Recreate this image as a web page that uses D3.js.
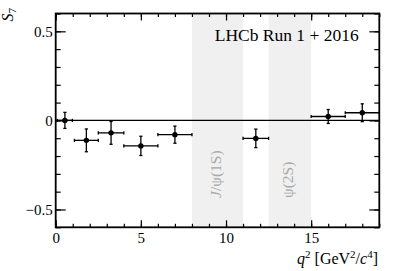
<!DOCTYPE html>
<html>
<head>
<meta charset="utf-8">
<script src="https://cdn.jsdelivr.net/npm/d3@7"></script>
<style>
  body { margin: 0; background: #fff; }
  svg { display: block; font-family: "Liberation Serif", "DejaVu Serif", serif; }
  .axis path { display: none; }
  .axis line { stroke: #000; stroke-width: 1.2; }
</style>
</head>
<body>
<div id="chart"></div>
<script>
// q2 bins and S7 measurements
const binLo = [0.1, 1.1, 2.5, 4.0, 6.0, 11.0, 15.0, 17.0];
const binHi = [0.98, 2.5, 4.0, 6.0, 8.0, 12.5, 17.0, 19.0];
const s7 = [0.00, -0.112, -0.070, -0.143, -0.080, -0.101, 0.022, 0.043];
const s7Err = [0.045, 0.064, 0.064, 0.054, 0.048, 0.052, 0.039, 0.050];

// charmonium veto regions
const vetoLo = [8.0, 12.5];
const vetoHi = [11.0, 15.0];
const vetoLabels = ["J/ψ(1S)", "ψ(2S)"];

const xMajor = [0, 5, 10, 15];
const xMinor = d3.range(0, 20, 1);
const yMajor = [-0.5, 0, 0.5];
const yMinor = d3.range(-6, 7).map(d => d / 10);

const W = 399, H = 271;
const padL = 55.7, padR = 379.3, padT = 13.5, padB = 227.3;
const serif = '"Liberation Serif", "DejaVu Serif", serif';

const svg = d3.select("#chart").append("svg")
    .attr("width", W)
    .attr("height", H);

const x = d3.scaleLinear().domain([0, 19]).range([padL, padR]);
const y = d3.scaleLinear().domain([-0.6, 0.6]).range([padB, padT]);

// veto bands
const bands = svg.append("g");
bands.selectAll("rect")
    .data(vetoLo)
    .enter().append("rect")
    .attr("x", d => x(d))
    .attr("y", padT)
    .attr("width", (d, i) => x(vetoHi[i]) - x(d))
    .attr("height", padB - padT)
    .attr("fill", "#f0f0f0");

bands.selectAll("text")
    .data(vetoLabels)
    .enter().append("text")
    .attr("transform", (d, i) => {
        const cx = x((vetoLo[i] + vetoHi[i]) / 2) + 3.3;
        return `translate(${cx},198) rotate(-90)`;
    })
    .attr("fill", "#a8a8a8")
    .attr("font-family", serif)
    .style("font-size", "15.5px")
    .each(function(d) {
        const t = d3.select(this);
        if (d.startsWith("J")) {
            t.append("tspan").style("font-style", "italic").text("J");
            t.append("tspan").text(d.slice(1));
        } else {
            t.text(d);
        }
    });

// zero line
svg.append("line")
    .attr("x1", padL).attr("x2", padR)
    .attr("y1", y(0)).attr("y2", y(0))
    .attr("stroke", "#000")
    .attr("stroke-width", 1.2);

// axes: minor + major, ticks pointing inwards
function addAxis(axis, tx, ty) {
    svg.append("g").attr("class", "axis")
        .attr("transform", `translate(${tx},${ty})`)
        .call(axis)
        .attr("font-family", serif)
        .attr("font-size", 15)
        .selectAll("text").attr("fill", "#000");
}
addAxis(d3.axisBottom(x).tickValues(xMinor).tickSize(-3.5).tickFormat(""), 0, padB);
addAxis(d3.axisBottom(x).tickValues(xMajor).tickSize(-7).tickPadding(5).tickFormat(d3.format("d")), 0, padB);
addAxis(d3.axisTop(x).tickValues(xMinor).tickSize(-3.5).tickFormat(""), 0, padT);
addAxis(d3.axisTop(x).tickValues(xMajor).tickSize(-7).tickFormat(""), 0, padT);
addAxis(d3.axisLeft(y).tickValues(yMinor).tickSize(-5).tickFormat(""), padL, 0);
addAxis(d3.axisLeft(y).tickValues(yMajor).tickSize(-10).tickPadding(3)
    .tickFormat(d => d === 0 ? "0" : d3.format(".1f")(d).replace("-", "\u2212")), padL, 0);
addAxis(d3.axisRight(y).tickValues(yMinor).tickSize(-5).tickFormat(""), padR, 0);
addAxis(d3.axisRight(y).tickValues(yMajor).tickSize(-10).tickFormat(""), padR, 0);

// frame
svg.append("rect")
    .attr("x", padL).attr("y", padT)
    .attr("width", padR - padL).attr("height", padB - padT)
    .attr("fill", "none")
    .attr("stroke", "#000")
    .attr("stroke-width", 1.8);

// data points with error bars
const pts = svg.append("g").attr("stroke", "#000").attr("stroke-width", 1.3);
const idx = d3.range(s7.length);
const mid = i => (binLo[i] + binHi[i]) / 2;
const cap = 1.6;

pts.selectAll(".h").data(idx).enter().append("line")
    .attr("x1", i => x(binLo[i])).attr("x2", i => x(binHi[i]))
    .attr("y1", i => y(s7[i])).attr("y2", i => y(s7[i]));
pts.selectAll(".v").data(idx).enter().append("line")
    .attr("x1", i => x(mid(i))).attr("x2", i => x(mid(i)))
    .attr("y1", i => y(s7[i] + s7Err[i])).attr("y2", i => y(s7[i] - s7Err[i]));
// end caps
[binLo, binHi].forEach(arr => {
    pts.selectAll(null).data(idx).enter().append("line")
        .attr("x1", i => x(arr[i])).attr("x2", i => x(arr[i]))
        .attr("y1", i => y(s7[i]) - cap).attr("y2", i => y(s7[i]) + cap);
});
[1, -1].forEach(sgn => {
    pts.selectAll(null).data(idx).enter().append("line")
        .attr("x1", i => x(mid(i)) - cap).attr("x2", i => x(mid(i)) + cap)
        .attr("y1", i => y(s7[i] + sgn * s7Err[i])).attr("y2", i => y(s7[i] + sgn * s7Err[i]));
});
pts.selectAll("circle").data(idx).enter().append("circle")
    .attr("cx", i => x(mid(i)))
    .attr("cy", i => y(s7[i]))
    .attr("r", 2.7)
    .attr("fill", "#000")
    .attr("stroke", "none");

// LHCb label
svg.append("text")
    .attr("x", 214.7).attr("y", 40.7)
    .attr("font-family", serif)
    .style("font-size", "17.5px")
    .text("LHCb Run 1 + 2016");

// y title
const yt = svg.append("text")
    .attr("transform", "translate(12.7,8) rotate(-90)")
    .attr("text-anchor", "end")
    .attr("font-family", serif)
    .style("font-size", "16px");
yt.append("tspan").style("font-style", "italic").text("S");
yt.append("tspan").attr("dy", 3.5).style("font-size", "11px").text("7");

// x title
const xt = svg.append("text")
    .attr("x", 378).attr("y", 264)
    .attr("text-anchor", "end")
    .attr("font-family", serif)
    .style("font-size", "16px");
xt.append("tspan").style("font-style", "italic").text("q");
xt.append("tspan").attr("dy", -6).style("font-size", "11px").text("2");
xt.append("tspan").attr("dy", 6).text(" [GeV");
xt.append("tspan").attr("dy", -6).style("font-size", "11px").text("2");
xt.append("tspan").attr("dy", 6).text("/");
xt.append("tspan").style("font-style", "italic").text("c");
xt.append("tspan").attr("dy", -6).style("font-size", "11px").text("4");
xt.append("tspan").attr("dy", 6).text("]");
</script>
</body>
</html>
